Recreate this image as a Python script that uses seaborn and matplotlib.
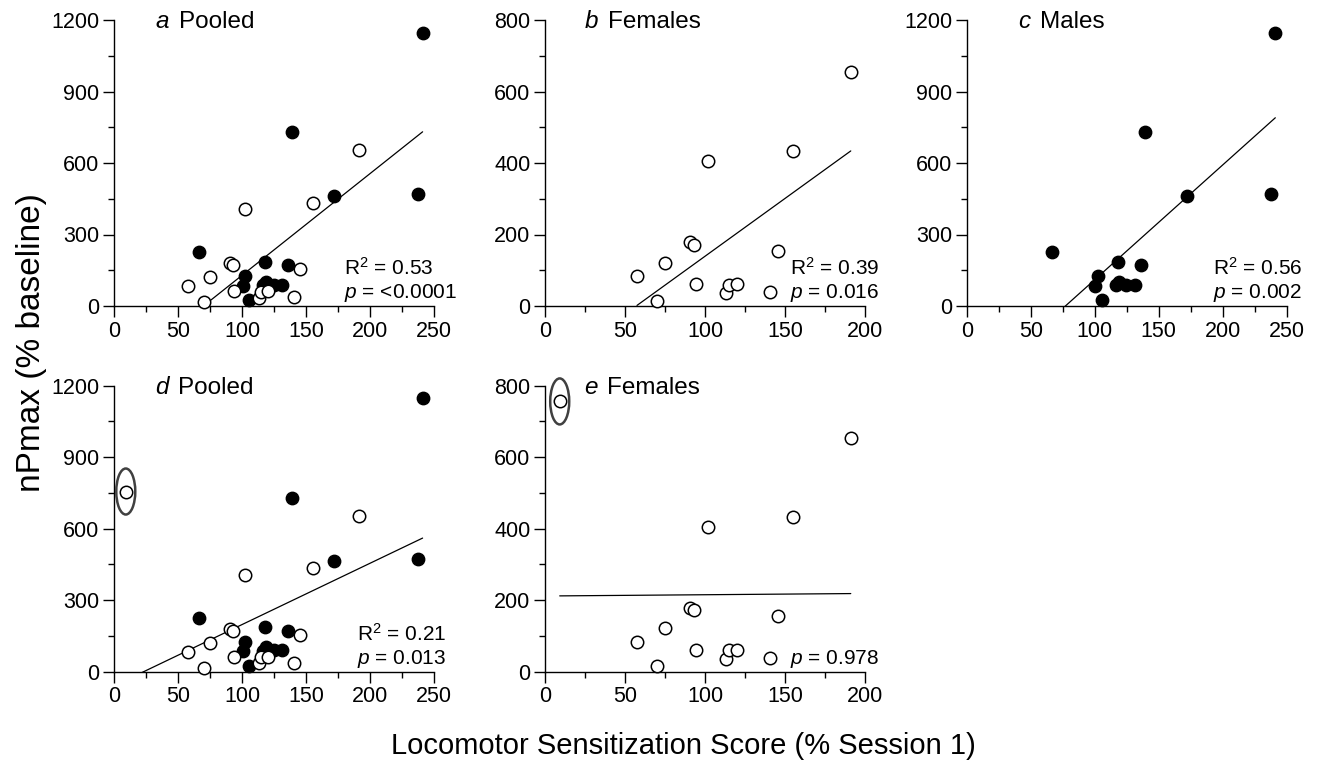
import numpy as np
import pandas as pd
import matplotlib
matplotlib.use("Agg")
import matplotlib.pyplot as plt
from matplotlib.patches import Ellipse
from matplotlib.ticker import MultipleLocator
import seaborn as sns

# ---------------- data ----------------
female_x = [57.5, 70.3, 75.0, 90.6, 93.2, 94.1, 102.0, 113.4, 115.0, 120.3, 140.4, 145.4, 155.1, 191.1]
female_y = [84, 15, 121, 179, 172, 61, 406, 35, 60, 62, 38, 155, 434, 654]
male_x = [66.5, 102.3, 100.4, 105.5, 118.2, 116.7, 118.6, 124.8, 131.4, 136.0, 139.2, 171.8, 237.4, 241.1]
male_y = [225, 126, 85, 26, 186, 88, 102, 90, 90, 170, 729, 463, 472, 1147]
outlier_x = [9.2]
outlier_y = [756]

panel_letters = ["a", "b", "c", "d", "e"]
panel_names = ["Pooled", "Females", "Males", "Pooled", "Females"]
r2_texts = ["0.53", "0.39", "0.56", "0.21", None]
p_texts = ["<0.0001", "0.016", "0.002", "0.013", "0.978"]
xlabel = "Locomotor Sensitization Score (% Session 1)"
ylabel = "nPmax (% baseline)"

fem = pd.DataFrame({"x": female_x, "y": female_y, "sex": "F"})
mal = pd.DataFrame({"x": male_x, "y": male_y, "sex": "M"})
out = pd.DataFrame({"x": outlier_x, "y": outlier_y, "sex": "F"})

panel_data = [
    pd.concat([fem, mal], ignore_index=True),
    fem,
    mal,
    pd.concat([fem, mal, out], ignore_index=True),
    pd.concat([fem, out], ignore_index=True),
]
panel_xmax = [250, 200, 250, 250, 200]
panel_ymax = [1200, 800, 1200, 1200, 800]
panel_ystep = [300, 200, 300, 300, 200]
has_outlier = [False, False, False, True, True]

# ---------------- style ----------------
sns.set_style("ticks")
plt.rcParams["font.family"] = ["Liberation Sans", "DejaVu Sans"]
plt.rcParams["mathtext.fontset"] = "custom"
plt.rcParams["mathtext.rm"] = "Liberation Sans"
plt.rcParams["mathtext.it"] = "Liberation Sans:italic"
plt.rcParams["axes.linewidth"] = 1.0
for k in ["text.color", "axes.labelcolor", "xtick.color", "ytick.color", "axes.edgecolor"]:
    plt.rcParams[k] = "black"

W, H = 1320, 771
fig = plt.figure(figsize=(W / 100, H / 100), dpi=100)

# axes positions in pixels: (x of x=0, y of y=0 from top)
lefts_px = [114, 545, 966.7, 114, 545]
bottoms_px = [306, 306, 306, 671.7, 671.7]
ax_w_px, ax_h_px = 320, 286
letter_x = [0.128, 0.124, 0.161, 0.128, 0.122]
name_x = [0.204, 0.197, 0.229, 0.201, 0.195]
stat_x = [0.72, 0.766, 0.77, 0.76, 0.766]

for i in range(5):
    ax = fig.add_axes([lefts_px[i] / W, (H - bottoms_px[i]) / H, ax_w_px / W, ax_h_px / H])
    df = panel_data[i]
    sns.regplot(data=df, x="x", y="y", ax=ax, scatter=False, ci=None, truncate=True,
                line_kws=dict(color="black", lw=0.9, zorder=1))
    dm = df[df.sex == "M"]
    dfm = df[df.sex == "F"]
    if len(dm):
        sns.scatterplot(data=dm, x="x", y="y", ax=ax, color="black", edgecolor="black",
                        s=80, linewidth=1.0, zorder=3, clip_on=False)
    if len(dfm):
        sns.scatterplot(data=dfm, x="x", y="y", ax=ax, color="white", edgecolor="black",
                        s=80, linewidth=1.1, zorder=4, clip_on=False)
    if has_outlier[i]:
        xr = panel_xmax[i]
        yr = panel_ymax[i]
        ell = Ellipse((outlier_x[0], outlier_y[0]), width=xr * 19 / 320,
                      height=yr * 46 / 286, fill=False, edgecolor="#404040", lw=1.8, zorder=5,
                      clip_on=False)
        ax.add_patch(ell)

    ax.set_xlim(0, panel_xmax[i])
    ax.set_ylim(0, panel_ymax[i])
    ax.xaxis.set_major_locator(MultipleLocator(50))
    ax.xaxis.set_minor_locator(MultipleLocator(25))
    ax.yaxis.set_major_locator(MultipleLocator(panel_ystep[i]))
    ax.yaxis.set_minor_locator(MultipleLocator(panel_ystep[i] / 2))
    ax.tick_params(which="major", length=8, width=1.0, labelsize=15.5, pad=2.5, direction="out")
    ax.tick_params(which="minor", length=4, width=1.0, direction="out")
    sns.despine(ax=ax)
    ax.set_xlabel("")
    ax.set_ylabel("")

    ax.text(letter_x[i], 0.972, panel_letters[i], transform=ax.transAxes, fontsize=17.5,
            style="italic", ha="left", va="baseline")
    ax.text(name_x[i], 0.972, panel_names[i], transform=ax.transAxes, fontsize=17.5,
            ha="left", va="baseline")
    if r2_texts[i] is not None:
        ax.text(stat_x[i], 0.108, f"R$^2$ = {r2_texts[i]}", transform=ax.transAxes,
                fontsize=15, ha="left", va="baseline")
    ax.text(stat_x[i], 0.028, f"$\\it{{p}}$ = {p_texts[i]}", transform=ax.transAxes,
            fontsize=15, ha="left", va="baseline")

fig.text(0.518, (H - 754) / H, xlabel, fontsize=21, ha="center", va="baseline")
fig.text(0.024, 0.556, ylabel, fontsize=24, ha="center", va="center", rotation=90)

fig.savefig("out.png", dpi=100)
